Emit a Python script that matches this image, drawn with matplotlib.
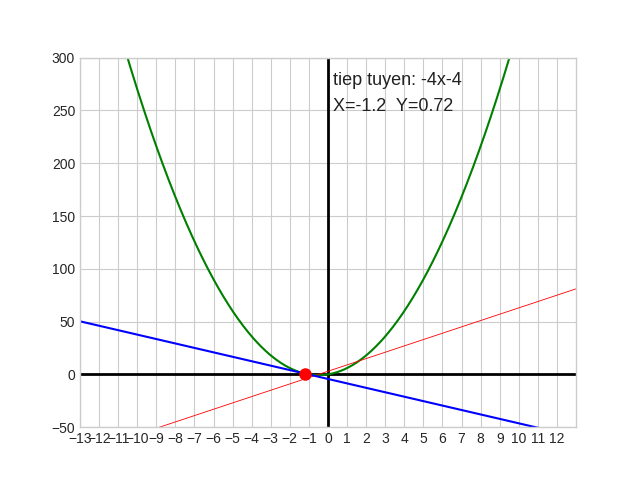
import numpy as np
import matplotlib
matplotlib.use('Agg')
import matplotlib.pyplot as plt

plt.style.use('seaborn-v0_8-whitegrid')
plt.rcParams['font.family'] = ['Liberation Sans', 'DejaVu Sans']

# parabola y = a*x^2 + b*x + c
coef = [3, 3, 0]
x0 = -1.2
xlim = (-13, 13)
ylim = (-50, 300)
xticks = list(range(-13, 13))

def f(x):
	return coef[0]*x**2 + coef[1]*x + coef[2]

def df(x):
	return 2*coef[0]*x + coef[1]

y0 = f(x0)
k = df(x0)
m = y0 - k*x0

x = np.linspace(xlim[0], xlim[1], 500)

fig = plt.figure(figsize=(6.4, 4.8), dpi=100)
ax = fig.add_subplot(111)
ax.axhline(0, color='black', lw=2)
ax.axvline(0, color='black', lw=2)
ax.plot(x, f(x), color='green', lw=1.5)
ax.plot(x, df(x), color='red', lw=0.6)
ax.plot(x, k*x + m, color='blue', lw=1.5)
ax.plot(x0, y0, 'o', color='red', markersize=8)
ax.text(0.25, 274, 'tiep tuyen: {}x{}'.format(int(k), int(m)), fontsize=13, color='#222222')
ax.text(0.25, 249, 'X={}  Y={}'.format(x0, round(y0, 2)), fontsize=13, color='#222222')
ax.set_xlim(xlim)
ax.set_ylim(ylim)
ax.set_xticks(xticks)
for s in ax.spines.values():
	s.set_visible(True)
	s.set_color('#cccccc')
plt.savefig('out.png', dpi=100)
